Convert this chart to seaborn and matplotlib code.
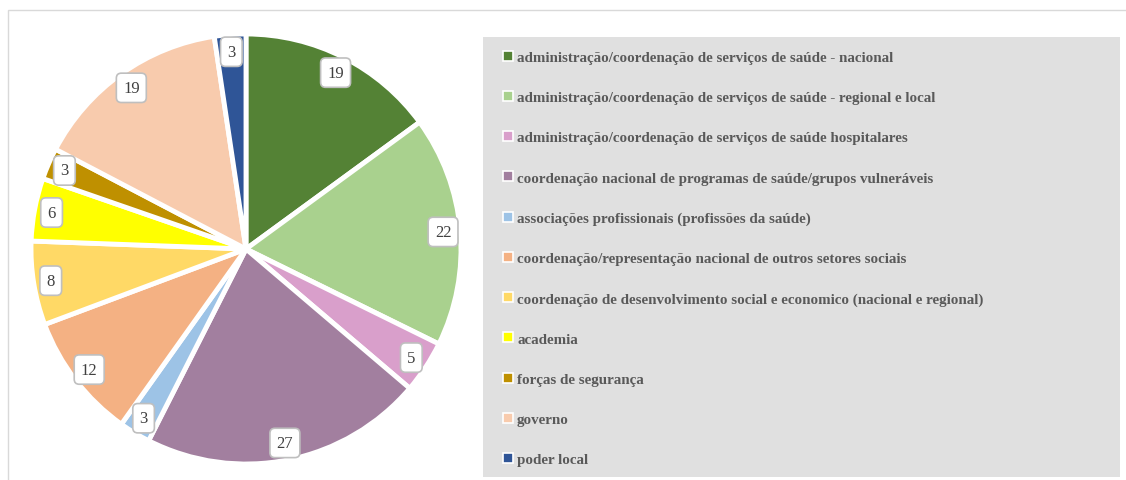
import matplotlib
matplotlib.use("Agg")
import matplotlib.pyplot as plt
import seaborn as sns
from matplotlib.patches import Rectangle
from matplotlib.lines import Line2D

categories = [
    "administração/coordenação de serviços de saúde - nacional",
    "administração/coordenação de serviços de saúde - regional e local",
    "administração/coordenação de serviços de saúde hospitalares",
    "coordenação nacional de programas de saúde/grupos vulneráveis",
    "associações profissionais (profissões da saúde)",
    "coordenação/representação nacional de outros setores sociais",
    "coordenação de desenvolvimento social e economico (nacional e regional)",
    "academia",
    "forças de segurança",
    "governo",
    "poder local",
]
values = [19, 22, 5, 27, 3, 12, 8, 6, 3, 19, 3]
colors = ["#548235", "#a9d18e", "#d99fcb", "#a27f9f", "#9dc3e6", "#f4b183",
          "#ffd966", "#ffff00", "#bf9000", "#f8cbad", "#2f5597"]

sns.set_theme(style="white")
plt.rcParams["font.family"] = ["Liberation Serif", "DejaVu Serif"]

W, H = 1126, 481
fig = plt.figure(figsize=(W / 100, H / 100), dpi=100)

def fx(px):
    return px / W

def fy(py):
    return 1 - py / H

# outer border
fig.patches.append(Rectangle((fx(8), fy(490)), fx(1130 - 8), 490 / H - 11 / H,
                             transform=fig.transFigure, fill=False,
                             ec="#d9d9d9", lw=1, zorder=0))
# legend background
fig.patches.append(Rectangle((fx(483), fy(478)), fx(1120 - 483), (478 - 38) / H,
                             transform=fig.transFigure, fc="#e0e0e0",
                             ec="none", zorder=0))

cx, cy, r = 246, 250, 215
ax = fig.add_axes([fx(cx - r), fy(cy + r), 2 * r / W, 2 * r / H])
wedges, texts = ax.pie(values, colors=colors, startangle=90, counterclock=False,
                       labels=[str(v) for v in values], labeldistance=0.92,
                       wedgeprops=dict(edgecolor="white", linewidth=3.5))
for t in texts:
    t.set_fontsize(12)
    t.set_color("#404040")
    t.set_ha("center")
    t.set_va("center")
    t.set_bbox(dict(boxstyle="round,pad=0.4,rounding_size=0.3", fc="white",
                    ec="#bfbfbf", lw=1.2))
ax.set_xlim(-1.0, 1.0)
ax.set_ylim(-1.0, 1.0)
ax.set_aspect("equal")
ax.axis("off")

handles = [Line2D([], [], marker="s", linestyle="none", markersize=7,
                  markerfacecolor=c, markeredgecolor="white", markeredgewidth=1.2)
           for c in colors]
leg = fig.legend(handles, categories, loc="upper left",
                 bbox_to_anchor=(fx(496), fy(44)), frameon=False,
                 prop=dict(family="Liberation Serif", weight="bold", size=10.8),
                 labelcolor="#595959", handlelength=0.6, handletextpad=0.3,
                 labelspacing=1.78, borderpad=0)

fig.savefig("out.png", dpi=100)
